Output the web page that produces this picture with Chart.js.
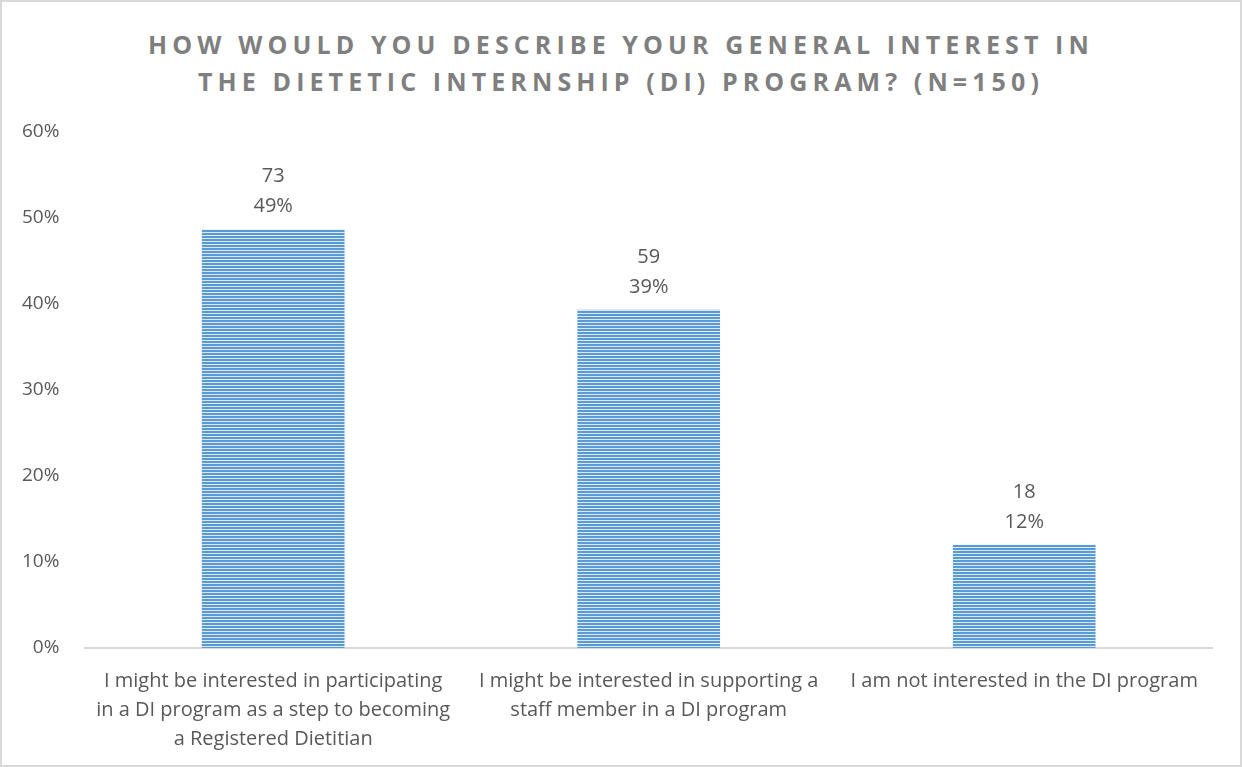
<!DOCTYPE html>
<html>
<head>
<meta charset="utf-8">
<script src="https://cdn.jsdelivr.net/npm/chart.js@4/dist/chart.umd.min.js"></script>
<style>
  html, body { margin: 0; padding: 0; background: #fff; }
  .wrap { position: relative; width: 1242px; height: 767px; box-sizing: border-box; border: 2px solid #d9d9d9; }
  .title {
    position: absolute; left: 0; right: 0; top: 24px;
    text-align: center; font-family: 'Open Sans', sans-serif; font-weight: bold;
    font-size: 25px; line-height: 37px; letter-spacing: 5.1px; color: #7f7f7f;
  }
  canvas { position: absolute; left: 0; top: 0; }
</style>
</head>
<body>
<div class="wrap">
  <div class="title">HOW WOULD YOU DESCRIBE YOUR GENERAL INTEREST IN<br>THE DIETETIC INTERNSHIP (DI) PROGRAM? (N=150)</div>
  <canvas id="chart" width="1238" height="763"></canvas>
</div>
<script>
const categories = [
  ['I might be interested in participating', 'in a DI program as a step to becoming', 'a Registered Dietitian'],
  ['I might be interested in supporting a', 'staff member in a DI program'],
  ['I am not interested in the DI program']
]
const counts = [73, 59, 18]
const shares = [0.4867, 0.3933, 0.12]
const shareLabels = ['49%', '39%', '12%']

const textColor = '#595959'

// striped fill like the original bars
const stripe = document.createElement('canvas')
stripe.width = 4
stripe.height = 3
const sctx = stripe.getContext('2d')
sctx.fillStyle = '#dbe8f6'
sctx.fillRect(0, 0, 4, 3)
sctx.fillStyle = '#5b9bd5'
sctx.fillRect(0, 0, 4, 2)
const ctx = document.getElementById('chart').getContext('2d')
const pattern = ctx.createPattern(stripe, 'repeat')

const barLabels = {
  id: 'barLabels',
  afterDatasetsDraw(chart) {
    const c = chart.ctx
    const meta = chart.getDatasetMeta(0)
    c.save()
    c.fillStyle = textColor
    c.font = '20px "Open Sans"'
    c.textAlign = 'center'
    c.textBaseline = 'alphabetic'
    meta.data.forEach((bar, i) => {
      c.fillText(String(counts[i]), bar.x, bar.y - 47)
      c.fillText(shareLabels[i], bar.x, bar.y - 17)
    })
    c.restore()
  },
}

new Chart(ctx, {
  type: 'bar',
  data: {
    labels: categories,
    datasets: [{
      data: shares,
      backgroundColor: pattern,
      borderWidth: 0,
      categoryPercentage: 1,
      barPercentage: 0.38,
    }],
  },
  options: {
    responsive: false,
    animation: false,
    layout: { padding: { top: 130, left: 2, right: 28, bottom: 0 } },
    plugins: { legend: { display: false }, tooltip: { enabled: false }, title: { display: false } },
    scales: {
      x: {
        grid: { display: false },
        border: { color: '#d9d9d9', width: 2 },
        ticks: { color: textColor, font: { family: 'Open Sans', size: 20, lineHeight: 1.45 }, maxRotation: 0, autoSkip: false, padding: 11 },
      },
      y: {
        min: 0,
        max: 0.6,
        grid: { display: false },
        border: { display: false },
        ticks: {
          stepSize: 0.1,
          color: textColor,
          font: { family: 'Open Sans', size: 19 },
          padding: 18,
          callback: (v) => `${Math.round(v * 100)}%`,
        },
      },
    },
  },
  plugins: [barLabels],
})
</script>
</body>
</html>
